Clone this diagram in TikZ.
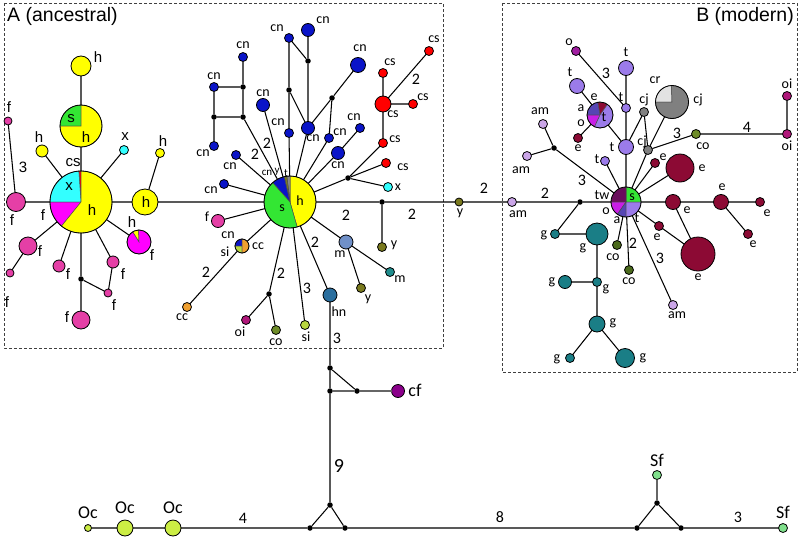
\documentclass[tikz,border=0pt]{standalone}
\usepackage{fontspec}
\setmainfont{Carlito}
\newfontfamily\arialf{Liberation Sans}
\newcommand\fLab{\fontsize{14}{14}\selectfont}
\newcommand\fNum{\fontsize{16}{16}\selectfont}
\newcommand\fAr{\arialf\fontsize{15}{15}\selectfont}
\newcommand\fSm{\fontsize{11}{11}\selectfont}
\newcommand\fBig{\fontsize{18}{18}\selectfont}
\newcommand\fTit{\arialf\fontsize{19.5}{19.5}\selectfont}
\definecolor{kyel}{HTML}{FFFF00}
\definecolor{kcyan}{HTML}{33FFFF}
\definecolor{kmag}{HTML}{FF00FF}
\definecolor{kmag2}{HTML}{C81EE6}
\definecolor{kpink}{HTML}{E53FA6}
\definecolor{kgrn}{HTML}{33E633}
\definecolor{kblue}{HTML}{0A14C8}
\definecolor{kred}{HTML}{FF0000}
\definecolor{korng}{HTML}{F0A030}
\definecolor{koi}{HTML}{B0177A}
\definecolor{kco}{HTML}{6E8C28}
\definecolor{kcob}{HTML}{4B6A1C}
\definecolor{ksi}{HTML}{B8D640}
\definecolor{khn}{HTML}{2A6E9E}
\definecolor{km}{HTML}{7090C8}
\definecolor{kms}{HTML}{1E8C8C}
\definecolor{ky}{HTML}{7A7A1E}
\definecolor{kgt}{HTML}{8A8A8A}
\definecolor{kam}{HTML}{CBA6E8}
\definecolor{kt}{HTML}{9B7BEA}
\definecolor{ko}{HTML}{A01EA0}
\definecolor{ke}{HTML}{8C0A34}
\definecolor{kg}{HTML}{1A7E86}
\definecolor{kcj}{HTML}{808080}
\definecolor{kcr}{HTML}{E2E2E2}
\definecolor{ktw}{HTML}{6A0E5C}
\definecolor{ka}{HTML}{5646B4}
\definecolor{koc}{HTML}{CCEE44}
\definecolor{ksf}{HTML}{80E08C}
\definecolor{kcf}{HTML}{8B008B}
\newcounter{lbc}
\newcommand\lb[3][lab]{\stepcounter{lbc}\node[#1] (lab\thelbc) at (#2) {#3};}
\newcommand\pieS[5]{\filldraw[fill=#5, draw=black!70, line width=0.5pt] (#1) -- ++({-(#3)}:#2) arc[start angle={-(#3)}, end angle={-(#4)}, radius=#2] -- cycle;}
\begin{document}
\begin{tikzpicture}[x=1pt,y=-1pt,
  hap/.style={circle, draw=black, line width=0.8pt, inner sep=0pt, outer sep=0pt},
  pieo/.style={circle, draw=black, line width=0.8pt, inner sep=0pt, outer sep=0pt},
  md/.style={circle, fill=black, inner sep=0pt, minimum size=5.5pt},
  lab/.style={inner sep=0pt, font=\fLab},
  ar/.style={inner sep=0pt, font=\fAr},
  num/.style={inner sep=0pt, font=\fNum},
  sm/.style={inner sep=0pt, font=\fSm},
  big/.style={inner sep=0pt, font=\fBig},
  ed/.style={line width=1.05pt, black},
  edg/.style={line width=1.05pt, black!60},
  boxd/.style={line width=0.8pt, black!75, dash pattern=on 3pt off 2pt},
]
\useasboundingbox (0,0) rectangle (800,538);
\fill[white] (0,0) rectangle (800,538);

% boxes
\draw[boxd] (4,3) rectangle (443,348);
\draw[boxd] (502,3) rectangle (797,372);
\node[inner sep=0pt, font=\fTit, anchor=west] (titA) at (7,16) {A (ancestral)};
\node[inner sep=0pt, font=\fTit, anchor=east] (titB) at (794,16) {B (modern)};

% ================= A left =================
\pieS{81,202}{31}{90}{94}{kred}
\pieS{81,202}{31}{94}{180}{kcyan}
\pieS{81,202}{31}{180}{231}{kmag}
\pieS{81,202}{31}{231}{450}{kyel}
\node[pieo, minimum size=62pt] (hA) at (81,202) {};
\pieS{81,126}{21}{90}{180}{kgrn}
\pieS{81,126}{21}{180}{450}{kyel}
\node[pieo, minimum size=42pt] (pSH) at (81,126) {};
\pieS{139,242}{12}{92}{122}{kyel}
\pieS{139,242}{12}{122}{452}{kmag}
\node[pieo, minimum size=24pt] (pFH) at (139,242) {};

\node[hap, fill=kyel, minimum size=20pt] (hTop) at (81,66) {};
\node[hap, fill=kpink, minimum size=8pt] (fL1) at (8,121) {};
\node[hap, fill=kpink, minimum size=19pt] (fL2) at (16,202) {};
\node[hap, fill=kyel, minimum size=12pt] (hS1) at (42,151) {};
\node[hap, fill=kcyan, minimum size=9pt] (xS) at (124,150) {};
\node[hap, fill=kyel, minimum size=26pt] (hM) at (145,202) {};
\node[hap, fill=kyel, minimum size=9pt] (hS2) at (160,153) {};
\node[hap, fill=kpink, minimum size=18pt] (fA) at (28,246) {};
\node[hap, fill=kpink, minimum size=8pt] (fB) at (10,273) {};
\node[hap, fill=kpink, minimum size=12pt] (fC) at (59,266) {};
\node[hap, fill=kpink, minimum size=12pt] (fD) at (113,262) {};
\node[hap, fill=kpink, minimum size=8pt] (fE) at (108,293) {};
\node[md] (dA) at (81,279) {};
\node[hap, fill=kpink, minimum size=18pt] (fF) at (81,320) {};

% ================= A centre =================
\pieS{290,202}{26}{286}{450}{kyel}
\pieS{290,202}{26}{90}{97}{kgt}
\pieS{290,202}{26}{97}{103}{ky}
\pieS{290,202}{26}{103}{132}{kblue}
\pieS{290,202}{26}{132}{286}{kgrn}
\node[pieo, minimum size=52pt] (hubA) at (290,202) {};

\node[hap, fill=kblue, minimum size=9pt] (cnA1) at (243,57) {};
\node[md] (dS1) at (243,87) {};
\node[md] (dS2) at (214,117) {};
\node[md] (dS3) at (243,117) {};
\node[hap, fill=kblue, minimum size=9pt] (cnA2) at (214,87) {};
\node[hap, fill=kblue, minimum size=9pt] (cnA3) at (214,146) {};
\node[hap, fill=kblue, minimum size=13pt] (cnA4) at (263,105) {};
\node[hap, fill=kblue, minimum size=9pt] (cnA5) at (236,155) {};
\node[hap, fill=kblue, minimum size=9pt] (cnA6) at (224,184) {};
\node[hap, fill=kblue, minimum size=9pt] (cnA7) at (289,38) {};
\node[hap, fill=kblue, minimum size=13pt] (cnA8) at (308,30) {};
\node[md] (dN1) at (308,61) {};
\node[md] (dN2) at (289,90) {};
\node[md] (dN3) at (332,98) {};
\node[hap, fill=kblue, minimum size=9pt] (cnA9) at (289,133) {};
\node[hap, fill=kblue, minimum size=13pt] (cnA10) at (308,128) {};
\node[hap, fill=kblue, minimum size=15pt] (cnA11) at (358,65) {};
\node[hap, fill=kblue, minimum size=9pt] (cnA12) at (329,138) {};
\node[hap, fill=kblue, minimum size=9pt] (cnA13) at (360,128) {};
\node[hap, fill=kblue, minimum size=13pt] (cnA14) at (338,153) {};

\node[hap, fill=kred, minimum size=16pt] (csL) at (383,104) {};
\node[hap, fill=kred, minimum size=9pt] (cs1) at (383,73) {};
\node[hap, fill=kred, minimum size=9pt] (cs2) at (413,104) {};
\node[hap, fill=kred, minimum size=9pt] (cs3) at (429,51) {};
\node[hap, fill=kred, minimum size=9pt] (cs4) at (383,143) {};
\node[hap, fill=kred, minimum size=9pt] (cs5) at (386,163) {};
\node[md] (dC) at (348,178) {};
\node[hap, fill=kcyan, minimum size=9pt] (xA) at (388,187) {};

\node[hap, fill=kpink, minimum size=13pt] (fG) at (218,221) {};
\pieS{242,246}{7}{90}{180}{kblue}
\pieS{242,246}{7}{180}{270}{ksi}
\pieS{242,246}{7}{270}{450}{korng}
\node[pieo, minimum size=14pt] (pCC) at (242,246) {};
\node[hap, fill=korng, minimum size=9pt] (ccA) at (187,307) {};
\node[md] (dB) at (269,294) {};
\node[hap, fill=koi, minimum size=9pt] (oiA) at (246,320) {};
\node[hap, fill=kco, minimum size=9pt] (coA) at (276,330) {};
\node[hap, fill=ksi, minimum size=9pt] (siA) at (305,325) {};
\node[hap, fill=khn, minimum size=14pt] (hn) at (330,295) {};
\node[hap, fill=km, minimum size=14pt] (mL) at (346,242) {};
\node[hap, fill=kms, minimum size=9pt] (mS) at (390,272) {};
\node[hap, fill=ky, minimum size=9pt] (yS1) at (361,288) {};
\node[md] (dM) at (382,202) {};
\node[hap, fill=ky, minimum size=9pt] (yS2) at (382,247) {};
\node[hap, fill=ky, minimum size=8pt] (yMain) at (459,202) {};
\node[hap, fill=kam, minimum size=9pt] (amMain) at (512,202) {};

% ================= B =================
\node[md] (dB0) at (580,202) {};
\pieS{626,202}{15}{0}{90}{kgrn}
\pieS{626,202}{15}{90}{180}{ktw}
\pieS{626,202}{15}{180}{235}{kmag2}
\pieS{626,202}{15}{235}{270}{ka}
\pieS{626,202}{15}{270}{360}{kt}
\node[pieo, minimum size=30pt] (hubB) at (626,202) {};

\node[hap, fill=kg, minimum size=9pt] (gS1) at (555,234) {};
\node[hap, fill=kg, minimum size=22pt] (gL1) at (597,234) {};
\node[hap, fill=kg, minimum size=9pt] (gS2) at (597,282) {};
\node[hap, fill=kg, minimum size=13pt] (gM1) at (565,282) {};
\node[hap, fill=kg, minimum size=16pt] (gM2) at (597,324) {};
\node[hap, fill=kg, minimum size=9pt] (gS3) at (570,358) {};
\node[hap, fill=kg, minimum size=19pt] (gM3) at (625,358) {};
\node[hap, fill=kcob, minimum size=9pt] (coB1) at (617,245) {};
\node[hap, fill=kcob, minimum size=9pt] (coB2) at (629,270) {};
\node[hap, fill=kam, minimum size=9pt] (amB1) at (673,305) {};
\node[hap, fill=ke, minimum size=9pt] (eS1) at (659,226) {};
\node[hap, fill=ke, minimum size=34pt] (eL1) at (698,254) {};
\node[hap, fill=ke, minimum size=15pt] (eM1) at (673,202) {};
\node[hap, fill=ke, minimum size=15pt] (eM2) at (721,202) {};
\node[hap, fill=ke, minimum size=9pt] (eS2) at (760,202) {};
\node[hap, fill=ke, minimum size=9pt] (eS3) at (748,234) {};
\node[hap, fill=kt, minimum size=15pt] (tB1) at (626,147) {};
\node[hap, fill=kt, minimum size=9pt] (tB2) at (626,108) {};
\node[hap, fill=kt, minimum size=15pt] (tB3) at (626,68) {};
\node[hap, fill=ko, minimum size=9pt] (oB) at (576,51) {};
\pieS{600,115}{13}{55}{100}{ke}
\pieS{600,115}{13}{100}{180}{ka}
\pieS{600,115}{13}{180}{245}{kmag2}
\pieS{600,115}{13}{245}{415}{kt}
\node[pieo, minimum size=26pt] (pT) at (600,115) {};
\node[hap, fill=kt, minimum size=15pt] (tB4) at (577,86) {};
\node[hap, fill=ke, minimum size=9pt] (eS4) at (578,138) {};
\node[hap, fill=kam, minimum size=9pt] (amB2) at (543,124) {};
\node[hap, fill=kam, minimum size=9pt] (amB3) at (527,156) {};
\node[md] (dBa) at (554,148) {};
\node[hap, fill=kt, minimum size=9pt] (tB5) at (605,161) {};
\node[hap, fill=kcj, minimum size=9pt] (cjS1) at (644,112) {};
\node[hap, fill=kcj, minimum size=9pt] (cjS2) at (648,150) {};
\pieS{672,102}{16.5}{92}{180}{kcr}
\pieS{672,102}{16.5}{180}{452}{kcj}
\node[pieo, minimum size=33pt] (pCJ) at (672,102) {};
\node[hap, fill=kco, minimum size=9pt] (coB3) at (696,134) {};
\node[hap, fill=koi, minimum size=9pt] (oiB1) at (787,134) {};
\node[hap, fill=koi, minimum size=9pt] (oiB2) at (787,96) {};
\node[hap, fill=ke, minimum size=9pt] (eS5) at (655,163) {};
\node[hap, fill=ke, minimum size=28pt] (eL2) at (680,168) {};

% ================= bottom =================
\node[md] (dV1) at (330,368) {};
\node[md] (dV2) at (330,391) {};
\node[md] (dV3) at (357,391) {};
\node[hap, fill=kcf, minimum size=13pt] (cf) at (398,391) {};
\node[md] (dT) at (330,505) {};
\node[md] (dL) at (310,528) {};
\node[md] (dR) at (345,528) {};
\node[hap, fill=koc, minimum size=7pt] (OcS) at (88,528) {};
\node[hap, fill=koc, minimum size=16pt] (Oc1) at (125,528) {};
\node[hap, fill=koc, minimum size=16pt] (Oc2) at (173,528) {};
\node[md] (dL2) at (637,528) {};
\node[md] (dR2) at (681,528) {};
\node[md] (dT2) at (657,503) {};
\node[hap, fill=ksf, minimum size=9pt] (SfT) at (657,475) {};
\node[hap, fill=ksf, minimum size=9pt] (SfR) at (783,528) {};

% ================= edges =================
\draw[ed] (fL2) -- (hA) (hA) -- (hM) (hM) -- (hubA) (hA) -- (pSH) (pSH) -- (hTop)
  (hA) -- (hS1) (hA) -- (xS) (hA) -- (pFH) (hA) -- (fA) (fA) -- (fB) (hA) -- (fC)
  (hA) -- (fD) (fD) -- (fE) (hA) -- (dA) (dA) -- (fE) (dA) -- (fF) (hS2) -- (hM) (fL1) -- (fL2);
\draw[ed] (cnA1) -- (dS1) (cnA2) -- (dS1) (cnA2) -- (dS2) (dS1) -- (dS3) (dS2) -- (dS3) (dS2) -- (cnA3)
  (dS3) -- (hubA) (cnA4) -- (hubA) (cnA5) -- (hubA) (cnA6) -- (hubA)
  (cnA7) -- (dN1) (cnA8) -- (dN1) (cnA7) -- (dN2) (dN2) -- (cnA9) (cnA9) -- (hubA)
  (dN2) -- (cnA10) (dN1) -- (cnA10) (cnA10) -- (hubA) (cnA11) -- (dN3) (dN3) -- (cnA10)
  (dN3) -- (cnA12) (cnA12) -- (hubA) (cnA13) -- (cnA14) (cnA14) -- (hubA);
\draw[ed] (cs1) -- (csL) (csL) -- (cs2) (cs3) -- (csL) (csL) -- (cs4) (cs4) -- (dC)
  (dC) -- (cs5) (dC) -- (xA) (dC) -- (hubA);
\draw[ed] (hubA) -- (fG) (hubA) -- (pCC) (pCC) -- (ccA) (hubA) -- (dB) (dB) -- (oiA) (dB) -- (coA)
  (hubA) -- (siA) (hubA) -- (hn) (hubA) -- (mL) (mL) -- (mS) (mL) -- (yS1)
  (hubA) -- (dM) (dM) -- (yS2) (dM) -- (yMain) (yMain) -- (amMain) (amMain) -- (dB0) (dB0) -- (hubB);
\draw[ed] (dB0) -- (gS1) (gS1) -- (gL1) (gL1) -- (gS2) (gM1) -- (gS2) (gS2) -- (gM2) (gM2) -- (gS3) (gM2) -- (gM3)
  (hubB) -- (coB1) (hubB) -- (coB2) (hubB) -- (amB1) (hubB) -- (eS1) (eS1) -- (eL1)
  (hubB) -- (eM1) (eM1) -- (eL1) (eM1) -- (eM2) (eM2) -- (eS2) (eM2) -- (eS3)
  (hubB) -- (tB1) (tB1) -- (tB2) (tB2) -- (tB3) (oB) -- (tB2)
  (tB4) -- (pT) (pT) -- (tB1) (eS4) -- (pT)
  (amB2) -- (dBa) (amB3) -- (dBa) (dBa) -- (hubB) (tB5) -- (hubB)
  (tB1) -- (cjS1) (cjS1) -- (cjS2) (cjS2) -- (pCJ) (cjS2) -- (hubB) (cjS2) -- (coB3) (coB3) -- (oiB1) (oiB1) -- (oiB2)
  (hubB) -- (eS5) (hubB) -- (eL2);
\draw[ed] (hn) -- (dV1) (dV1) -- (dV2) (dV1) -- (dV3) (dV2) -- (dT) (dT) -- (dL) (dT) -- (dR)
  (OcS) -- (Oc1) (Oc1) -- (Oc2) (Oc2) -- (dL) (dL) -- (dR) (dR) -- (dL2) (dL2) -- (dR2)
  (dL2) -- (dT2) (dR2) -- (dT2) (dR2) -- (SfR);
\draw[edg] (dV2) -- (dV3) (dV3) -- (cf) (dT2) -- (SfT);

% ================= labels =================
% A left (Arial)
\lb[ar]{98,57}{h}
\lb[ar]{71,119}{s}
\lb[ar]{86,137}{h}
\lb[ar]{9,107}{f}
\lb[ar]{12,220}{f}
\lb[ar]{23,167}{3}
\lb[ar]{39,137}{h}
\lb[ar]{125,137}{x}
\lb[ar]{73,163}{cs}
\lb[ar]{69,187}{x}
\lb[ar]{92,210}{h}
\lb[ar]{43,215}{f}
\lb[ar]{146,202}{h}
\lb[ar]{163,141}{h}
\lb[ar]{132,222}{h}
\lb[ar]{152,255}{f}
\lb[ar]{40,251}{f}
\lb[ar]{7,302}{f}
\lb[ar]{68,274}{f}
\lb[ar]{123,274}{f}
\lb[ar]{114,305}{f}
\lb[ar]{67,317}{f}
% A centre
\lb{243,45}{cn}
\lb{214,76}{cn}
\lb{203,153}{cn}
\lb{263,93}{cn}
\lb{230,166}{cn}
\lb{211,190}{cn}
\lb{277,28}{cn}
\lb{323,20}{cn}
\lb{278,122}{cn}
\lb{313,138}{cn}
\lb{360,48}{cn}
\lb{340,132}{cn}
\lb{354,117}{cn}
\lb{338,165}{cn}
\lb{393,114}{cs}
\lb{390,62}{cs}
\lb{423,97}{cs}
\lb{434,39}{cs}
\lb{395,139}{cs}
\lb{403,167}{cs}
\lb{398,187}{x}
\lb{300,201}{h}
\lb{282,208}{s}
\lb[sm]{267,173}{cn}
\lb[sm]{277,172}{y}
\lb[sm]{286,173}{t}
\lb{207,217}{f}
\lb{228,235}{cn}
\lb{225,252}{si}
\lb{258,246}{cc}
\lb{182,317}{cc}
\lb{240,332}{oi}
\lb{276,342}{co}
\lb{306,337}{si}
\lb{339,312}{hn}
\lb{340,254}{m}
\lb{400,279}{m}
\lb{368,299}{y}
\lb{394,245}{y}
\lb{460,213}{y}
\lb{518,214}{am}
\lb[num]{255,154}{2}
\lb[num]{267,143}{2}
\lb[num]{416,79}{2}
\lb[num]{206,272}{2}
\lb[num]{281,273}{2}
\lb[num]{307,288}{3}
\lb[num]{315,242}{2}
\lb[num]{346,215}{2}
\lb[num]{412,214}{2}
\lb[num]{484,188}{2}
\lb[num]{545,193}{2}
\lb[num]{337,338}{3}
% B
\lb{540,111}{am}
\lb{521,170}{am}
\lb{569,42}{o}
\lb{626,52}{t}
\lb{570,72}{t}
\lb[num]{606,73}{3}
\lb{621,97}{t}
\lb{594,97}{e}
\lb{581,108}{a}
\lb{581,123}{o}
\lb{604,117}{t}
\lb{578,148}{e}
\lb{612,147}{t}
\lb{597,159}{t}
\lb[num]{582,180}{3}
\lb{655,80}{cr}
\lb{698,100}{cj}
\lb{644,100}{cj}
\lb{642,142}{cj}
\lb[num]{677,133}{3}
\lb{703,146}{co}
\lb[num]{747,127}{4}
\lb{787,84}{oi}
\lb{787,146}{oi}
\lb{663,157}{e}
\lb{702,168}{e}
\lb{602,195}{tw}
\lb{632,197}{s}
\lb{606,211}{o}
\lb{617,220}{a}
\lb{637,218}{t}
\lb{687,210}{e}
\lb{722,187}{e}
\lb{767,213}{e}
\lb{753,244}{e}
\lb{657,237}{e}
\lb{698,277}{e}
\lb{613,257}{co}
\lb{629,281}{co}
\lb[num]{633,243}{2}
\lb[num]{660,258}{3}
\lb{677,315}{am}
\lb{544,235}{g}
\lb{583,248}{g}
\lb{552,282}{g}
\lb{606,289}{g}
\lb{613,323}{g}
\lb{557,359}{g}
\lb{643,358}{g}
% bottom
\lb[big]{415,390}{cf}
\node[inner sep=0pt, font=\fontsize{20}{20}\selectfont] (nine) at (339,466) {9};
\lb[big]{88,513}{Oc}
\lb[big]{125,508}{Oc}
\lb[big]{173,508}{Oc}
\lb[num]{243,518}{4}
\lb[num]{500,517}{8}
\lb[num]{738,517}{3}
\lb[big]{657,460}{Sf}
\lb[big]{783,512}{Sf}
\end{tikzpicture}
\end{document}
